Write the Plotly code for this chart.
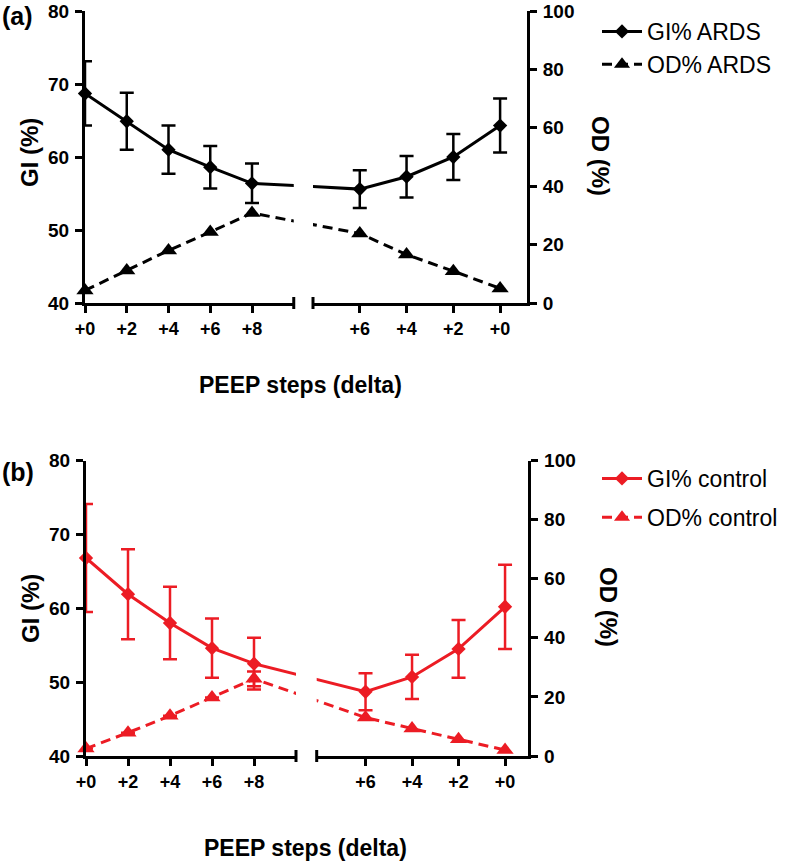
import plotly.graph_objects as go

W, H = 786, 861
FONT = "Liberation Sans, Arial, sans-serif"
BLACK = "#000000"
RED = "#EC1C24"

# ---------------- data ----------------
steps_up = [0, 2, 4, 6, 8]
steps_down = [6, 4, 2, 0]
labels_up = ["+0", "+2", "+4", "+6", "+8"]
labels_down = ["+6", "+4", "+2", "+0"]

gi_ards_up = [68.7, 64.9, 61.0, 58.6, 56.4]
gi_ards_up_err = [4.4, 3.9, 3.3, 2.9, 2.7]
gi_ards_down = [55.6, 57.3, 60.0, 64.3]
gi_ards_down_err = [2.6, 2.85, 3.15, 3.7]
od_ards_up = [4.3, 11.1, 18.0, 24.3, 30.8]
od_ards_down = [23.8, 16.6, 10.9, 5.0]

gi_ctrl_up = [66.8, 61.9, 58.0, 54.6, 52.5]
gi_ctrl_up_err = [7.3, 6.1, 4.9, 4.0, 3.5]
gi_ctrl_down = [48.7, 50.7, 54.5, 60.2]
gi_ctrl_down_err = [2.5, 3.0, 3.9, 5.7]
od_ctrl_up = [2.5, 7.9, 13.6, 19.8, 26.1]
od_ctrl_up_err = [0, 0, 0, 0, 2.5]
od_ctrl_down = [13.0, 9.3, 5.7, 2.0]

gi_ticks = [40, 50, 60, 70, 80]
od_ticks = [0, 20, 40, 60, 80, 100]

# ---------------- geometry (pixels) ----------------
panels = [
    dict(tag="(a)", color=BLACK, group="ARDS", ax=("x", "x2", "y", "y2"),
         yt=11, yb=303, L=(85, 293.75), Lr=(0, 10), R=(313, 527), Rr=(8, -1.15),
         gi_up=gi_ards_up, gi_up_err=gi_ards_up_err, gi_down=gi_ards_down,
         gi_down_err=gi_ards_down_err, od_up=od_ards_up, od_up_err=None,
         od_down=od_ards_down, tag_y=16, gi_title=(30, 153), od_title=(601, 156),
         x_title=(300, 385), legend=(597, 10), legend_gap=0),
    dict(tag="(b)", color=RED, group="control", ax=("x3", "x4", "y3", "y4"),
         yt=460.5, yb=756, L=(86, 296), Lr=(0, 10), R=(316.7, 528.3), Rr=(8.1, -1.0),
         gi_up=gi_ctrl_up, gi_up_err=gi_ctrl_up_err, gi_down=gi_ctrl_down,
         gi_down_err=gi_ctrl_down_err, od_up=od_ctrl_up, od_up_err=od_ctrl_up_err,
         od_down=od_ctrl_down, tag_y=472, gi_title=(30, 609), od_title=(609, 607),
         x_title=(305, 848), legend=(597, 457), legend_gap=6),
]


def xp(px):
    return px / W


def yp(py):
    return 1 - py / H


def conv(v, src_px, src_rng, dst_px, dst_rng):
    px = src_px[0] + (v - src_rng[0]) / (src_rng[1] - src_rng[0]) * (src_px[1] - src_px[0])
    return dst_rng[0] + (px - dst_px[0]) / (dst_px[1] - dst_px[0]) * (dst_rng[1] - dst_rng[0])


fig = go.Figure()
layout = {}
annotations = []
shapes = []

for i, p in enumerate(panels):
    xa, xb, ya, yb = p["ax"]
    c = p["color"]
    leg = "legend" if i == 0 else "legend2"
    up_in_L = list(steps_up)
    down_in_L = [conv(v, p["R"], p["Rr"], p["L"], p["Lr"]) for v in steps_down]
    up_in_R = [conv(v, p["L"], p["Lr"], p["R"], p["Rr"]) for v in steps_up]
    down_in_R = list(steps_down)
    gi_all = p["gi_up"] + p["gi_down"]
    od_all = p["od_up"] + p["od_down"]

    solid = dict(color=c, width=3)
    dashed = dict(color=c, width=3, dash="10px,6px")
    for xs, xax in ((up_in_L + down_in_L, xa), (up_in_R + down_in_R, xb)):
        fig.add_trace(go.Scatter(x=xs, y=gi_all, mode="lines", line=solid,
                                 xaxis=xax, yaxis=ya, showlegend=False, hoverinfo="skip"))
        fig.add_trace(go.Scatter(x=xs, y=od_all, mode="lines", line=dashed,
                                 xaxis=xax, yaxis=yb, showlegend=False, hoverinfo="skip"))

    eb = dict(type="data", color=c, thickness=2.5, width=7)
    fig.add_trace(go.Scatter(x=steps_up, y=p["gi_up"], mode="markers",
                             marker=dict(symbol="diamond", size=11, color=c),
                             error_y=dict(array=p["gi_up_err"], **eb),
                             xaxis=xa, yaxis=ya, showlegend=False, cliponaxis=False))
    fig.add_trace(go.Scatter(x=steps_down, y=p["gi_down"], mode="markers",
                             marker=dict(symbol="diamond", size=11, color=c),
                             error_y=dict(array=p["gi_down_err"], **eb),
                             xaxis=xb, yaxis=ya, showlegend=False, cliponaxis=False))
    od_kw = {}
    if p["od_up_err"] is not None:
        od_kw["error_y"] = dict(array=p["od_up_err"], **eb)
    fig.add_trace(go.Scatter(x=steps_up, y=p["od_up"], mode="markers",
                             marker=dict(symbol="triangle-up", size=15, color=c),
                             xaxis=xa, yaxis=yb, showlegend=False, cliponaxis=False, **od_kw))
    fig.add_trace(go.Scatter(x=steps_down, y=p["od_down"], mode="markers",
                             marker=dict(symbol="triangle-up", size=15, color=c),
                             xaxis=xb, yaxis=yb, showlegend=False, cliponaxis=False))
    fig.add_trace(go.Scatter(x=[None], y=[None], mode="lines+markers", name="GI% " + p["group"],
                             line=solid, marker=dict(symbol="diamond", size=11, color=c),
                             xaxis=xa, yaxis=ya, legend=leg, legendgroup="g%d" % i))
    fig.add_trace(go.Scatter(x=[None], y=[None], mode="lines+markers", name="OD% " + p["group"],
                             line=dashed, marker=dict(symbol="triangle-up", size=14, color=c),
                             xaxis=xa, yaxis=ya, legend=leg, legendgroup="o%d" % i))

    ydom = [yp(p["yb"]), yp(p["yt"])]
    axcommon = dict(showline=True, linecolor=BLACK, linewidth=3, ticks="outside",
                    ticklen=7, tickwidth=3, tickcolor=BLACK, showgrid=False, zeroline=False,
                    fixedrange=True, automargin=False)
    tf = dict(family=FONT, size=19, color=BLACK, weight="bold")
    xtf = dict(family=FONT, size=18, color=BLACK, weight="bold")
    nx = lambda s: s[0] + "axis" + s[1:] if len(s) > 1 else s + "axis"
    layout[nx(xa)] = dict(domain=[xp(p["L"][0]), xp(p["L"][1])], range=list(p["Lr"]),
                          anchor=ya, tickmode="array", tickvals=steps_up, ticktext=labels_up,
                          tickfont=xtf, **axcommon)
    layout[nx(xb)] = dict(domain=[xp(p["R"][0]), xp(p["R"][1])], range=list(p["Rr"]),
                          anchor=ya, tickmode="array", tickvals=steps_down, ticktext=labels_down,
                          tickfont=xtf, **axcommon)
    layout[nx(ya)] = dict(domain=ydom, range=[40, 80], anchor=xa, tickmode="array",
                          tickvals=gi_ticks, tickfont=tf, ticklabelstandoff=2, **axcommon)
    layout[nx(yb)] = dict(range=[0, 100], overlaying=ya, side="right", anchor=xb,
                          tickmode="array", tickvals=od_ticks, tickfont=tf,
                          ticklabelstandoff=2, **axcommon)

    for xr, xv in ((xa, 1), (xb, 0)):
        shapes.append(dict(type="line", xref=xr + " domain", x0=xv, x1=xv,
                           yref=ya + " domain", y0=-6 / (p["yb"] - p["yt"]),
                           y1=6 / (p["yb"] - p["yt"]), line=dict(color=BLACK, width=3)))

    annotations += [
        dict(text="<b>%s</b>" % p["tag"], x=xp(0), y=yp(p["tag_y"]), xref="paper", yref="paper",
             xanchor="left", yanchor="middle", showarrow=False,
             font=dict(family=FONT, size=25, color=BLACK)),
        dict(text="<b>GI (%)</b>", x=xp(p["gi_title"][0]), y=yp(p["gi_title"][1]), xref="paper",
             yref="paper", textangle=-90, showarrow=False, xanchor="center", yanchor="middle",
             font=dict(family=FONT, size=24, color=BLACK)),
        dict(text="<b>OD (%)</b>", x=xp(p["od_title"][0]), y=yp(p["od_title"][1]), xref="paper",
             yref="paper", textangle=90, showarrow=False, xanchor="center", yanchor="middle",
             font=dict(family=FONT, size=24, color=BLACK)),
        dict(text="<b>PEEP steps (delta)</b>", x=xp(p["x_title"][0]), y=yp(p["x_title"][1]),
             xref="paper", yref="paper", showarrow=False, xanchor="center", yanchor="middle",
             font=dict(family=FONT, size=23, color=BLACK)),
    ]
    layout[leg] = dict(x=xp(p["legend"][0]), y=yp(p["legend"][1]), xanchor="left", yanchor="top",
                       font=dict(family=FONT, size=23, color=BLACK), bgcolor="rgba(0,0,0,0)",
                       tracegroupgap=p["legend_gap"], itemwidth=40)

fig.update_layout(width=W, height=H,
                  margin=dict(l=0, r=0, t=0, b=0, pad=0, autoexpand=False),
                  paper_bgcolor="white", plot_bgcolor="white", hovermode=False,
                  annotations=annotations, shapes=shapes, **layout)
fig.write_html("out.html", config={"displayModeBar": False, "staticPlot": True},
               post_script="document.body.style.margin='0';document.body.style.padding='0';")
